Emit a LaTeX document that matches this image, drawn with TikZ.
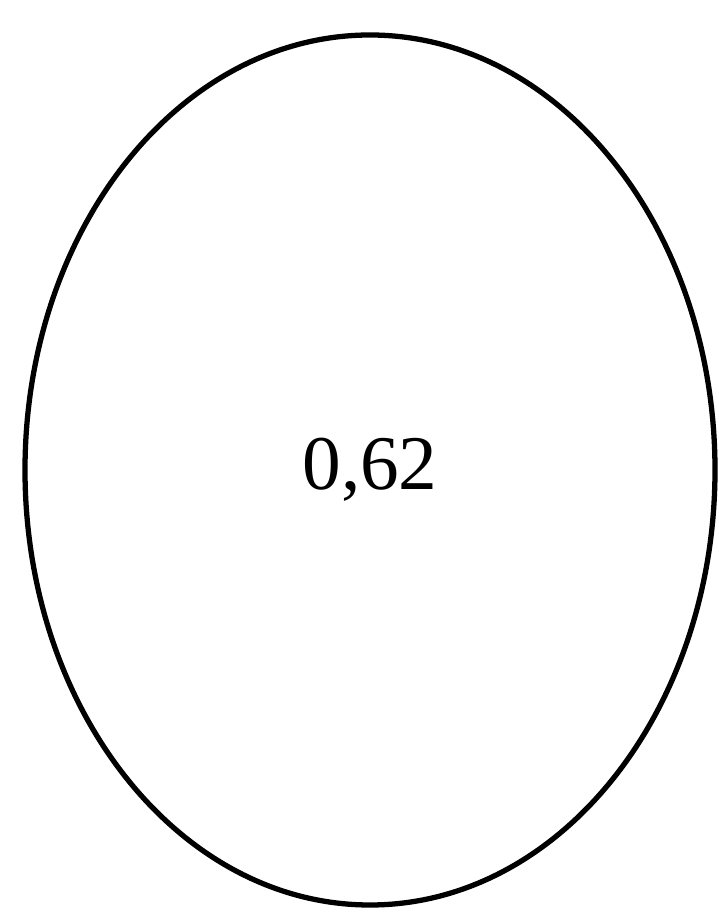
\documentclass[tikz,border=0pt]{standalone}
\usepackage{fontspec}
\setmainfont{Liberation Serif}
\usetikzlibrary{shapes.geometric}
\tikzset{
  frame/.style={draw=none, fill=white},
  egg/.style={
    ellipse,
    draw=black,
    line width=1.5pt,
    minimum width=6.90cm,
    minimum height=8.70cm,
    inner sep=0pt,
    font=\fontsize{22}{26}\selectfont
  }
}
\begin{document}
\begin{tikzpicture}[x=1cm,y=1cm]

% page size, 719 x 912 px
\path[frame] (0,0) rectangle (7.19,9.12);
\useasboundingbox (0,0) rectangle (7.19,9.12);

% the single region
\node[egg] (region) at (3.70,4.42) {0,62};

\end{tikzpicture}
\end{document}
